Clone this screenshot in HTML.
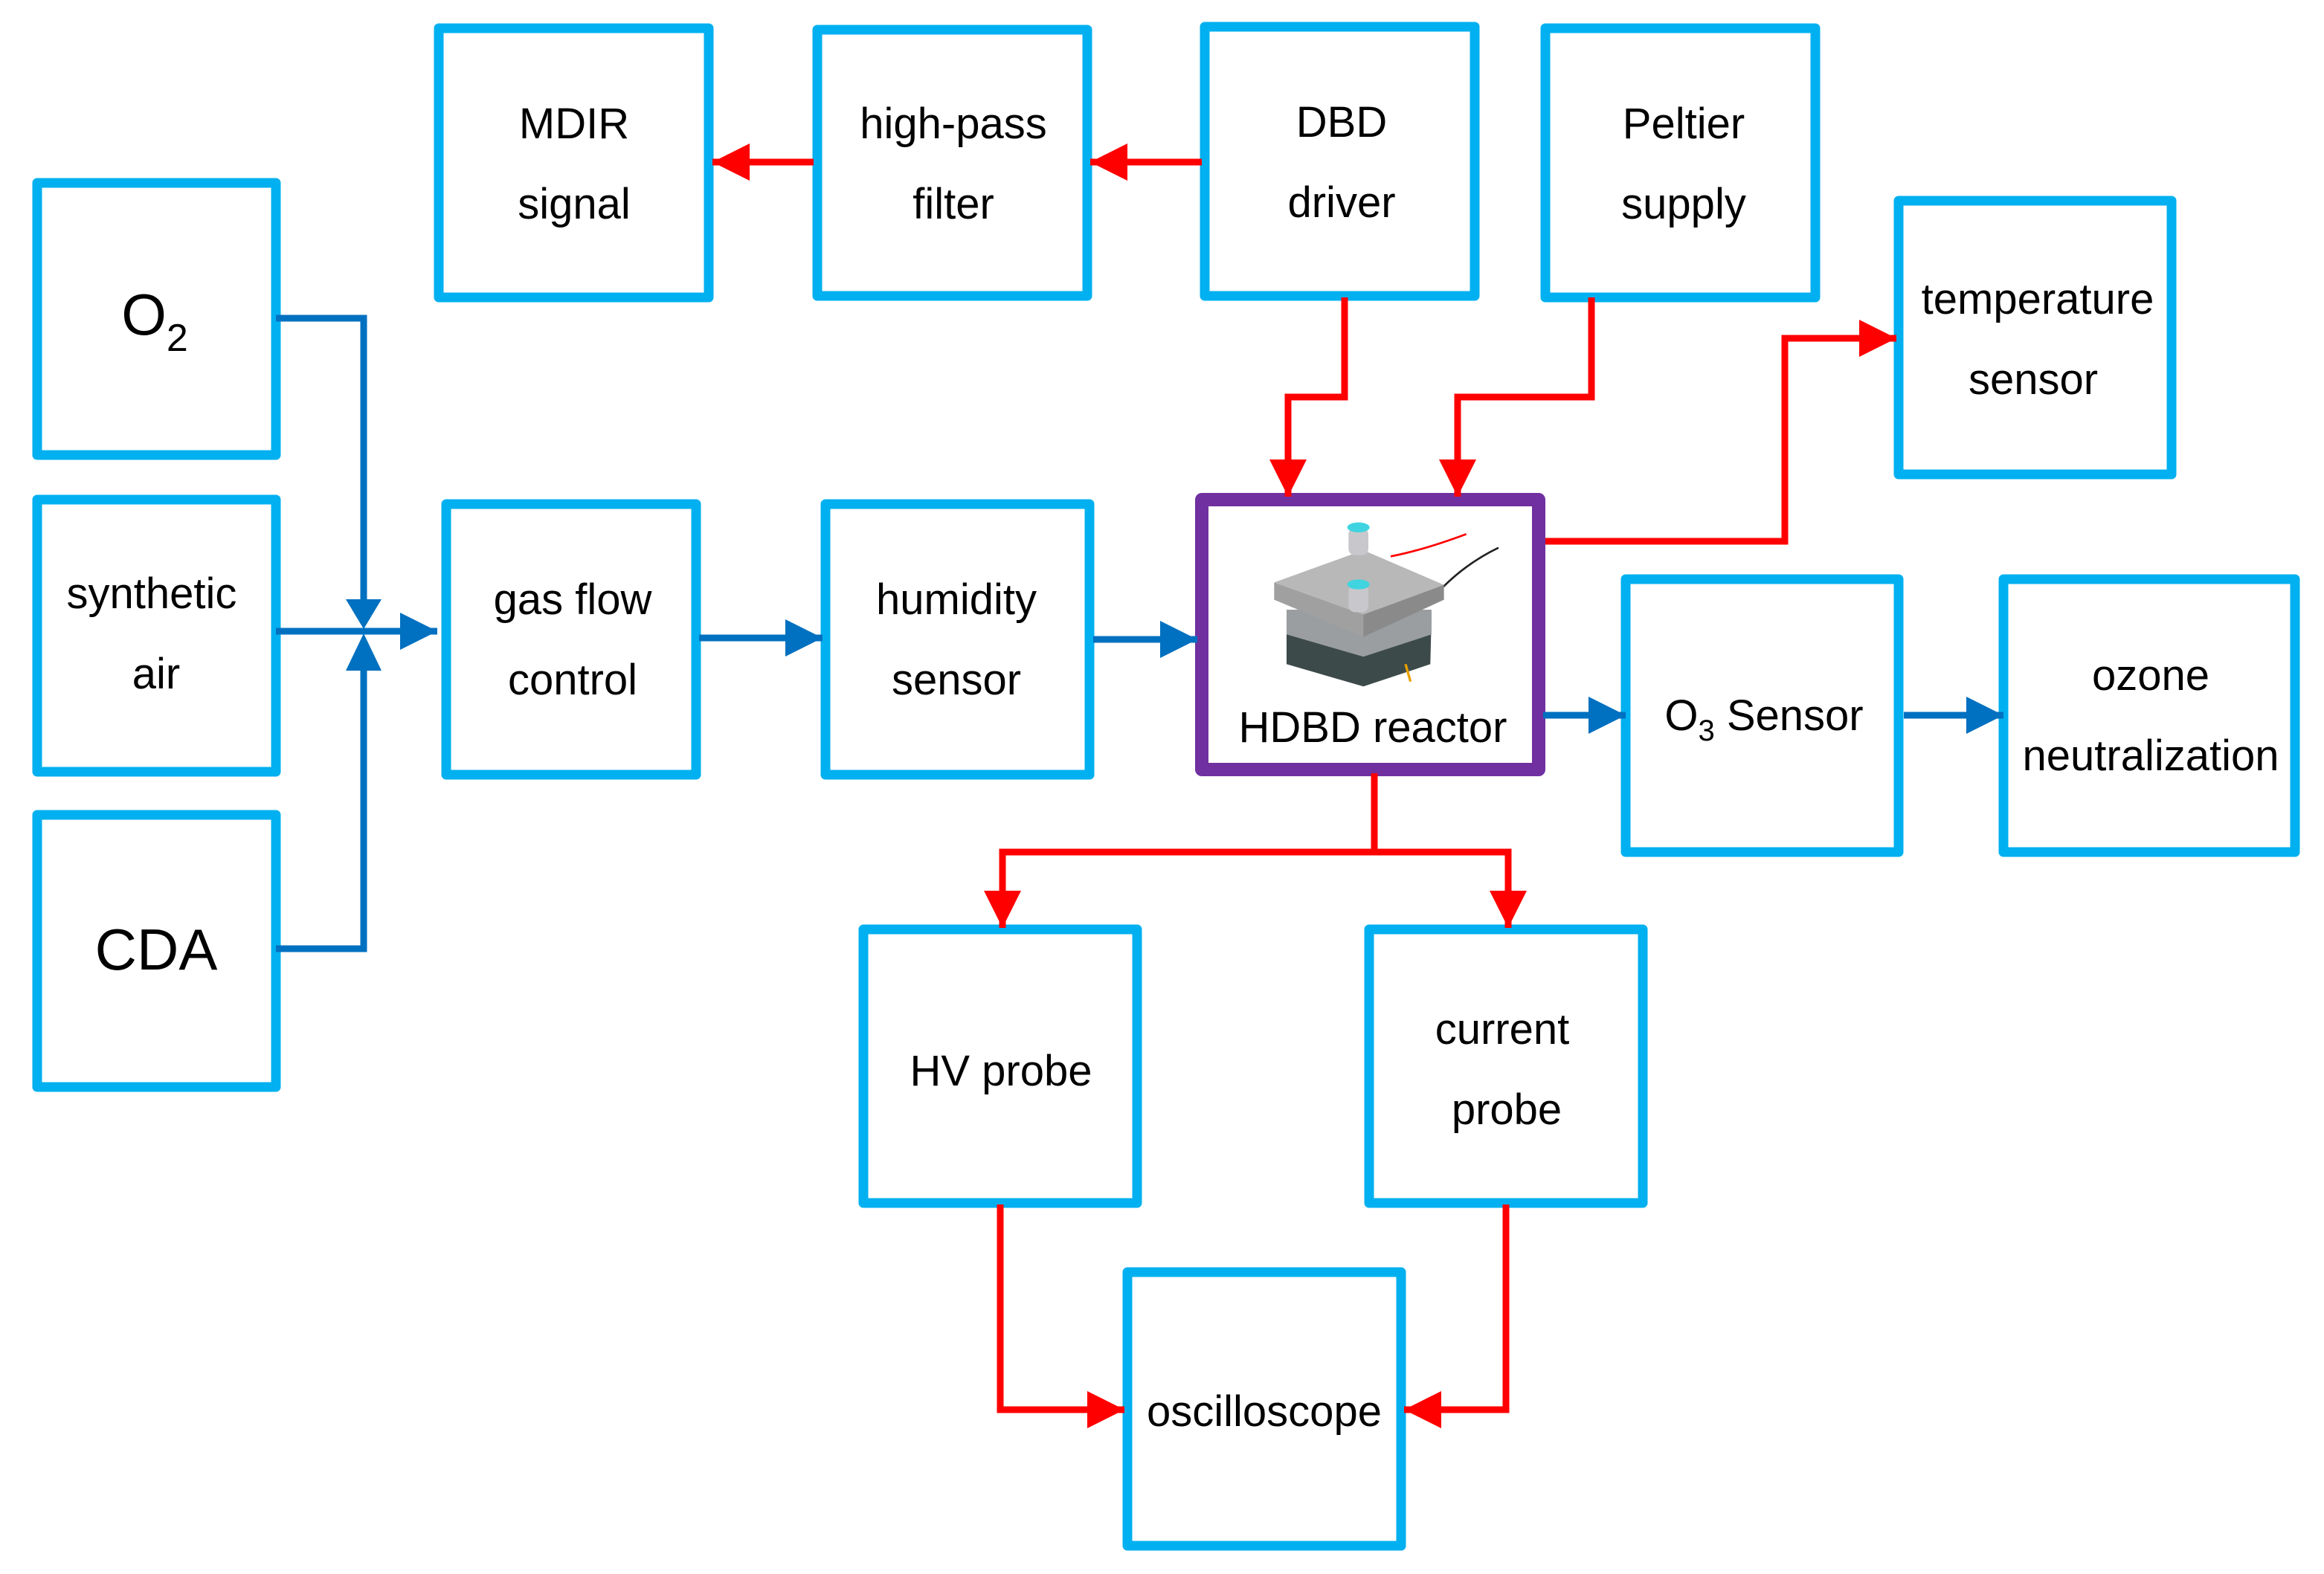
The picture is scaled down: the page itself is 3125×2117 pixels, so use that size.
<!DOCTYPE html>
<html><head><meta charset="utf-8"><style>
html,body{margin:0;padding:0;background:#fff}
svg{display:block}
text{font-family:"Liberation Sans",Arial,sans-serif;fill:#000;text-anchor:middle}
</style></head><body>
<svg width="3125" height="2117" viewBox="0 0 3125 2117" xmlns="http://www.w3.org/2000/svg">
<defs>
<marker id="ar" viewBox="0 0 50 50" refX="50" refY="25" markerWidth="50" markerHeight="50" markerUnits="userSpaceOnUse" orient="auto"><path d="M0,0 L50,25 L0,50 Z" fill="#ff0000"/></marker>
<marker id="ab" viewBox="0 0 50 50" refX="50" refY="25" markerWidth="50" markerHeight="50" markerUnits="userSpaceOnUse" orient="auto"><path d="M0,0 L50,25 L0,50 Z" fill="#0070c0"/></marker>
</defs>
<g fill="none" stroke="#00b0f0" stroke-width="13" stroke-linejoin="round">
<rect x="590" y="38" width="363" height="362"/>
<rect x="1099" y="40" width="363" height="358"/>
<rect x="1620" y="36" width="363" height="362"/>
<rect x="2078" y="38" width="363" height="362"/>
<rect x="2553" y="270" width="367" height="368"/>
<rect x="50" y="246" width="321" height="366"/>
<rect x="50" y="672" width="321" height="366"/>
<rect x="50" y="1096" width="321" height="366"/>
<rect x="600" y="678" width="336" height="364"/>
<rect x="1110" y="678" width="355" height="364"/>
<rect x="2186" y="779" width="367" height="367"/>
<rect x="2694" y="779" width="392" height="367"/>
<rect x="1161" y="1250" width="368" height="368"/>
<rect x="1841" y="1250" width="368" height="368"/>
<rect x="1516" y="1711" width="368" height="368"/>
</g>
<rect x="1616" y="672" width="453" height="363" fill="none" stroke="#7030a0" stroke-width="18" stroke-linejoin="round"/>
<!-- reactor device -->
<g transform="translate(1580,640) scale(0.3333)">
<path d="M1175,235 Q1000,300 870,325" stroke="#ff0000" stroke-width="8" fill="none"/>
<path d="M1305,290 Q1180,350 1080,450" stroke="#222" stroke-width="8" fill="none"/>
<path d="M450,560 L1035,560 L1030,760 L760,850 L450,760 Z" fill="#3d4a4a"/>
<path d="M450,540 L1035,540 L1035,640 L760,730 L450,640 Z" fill="#9a9ea0"/>
<path d="M400,430 L760,300 L1085,440 L760,560 Z" fill="#b8b8b8"/>
<path d="M400,430 L760,560 L760,650 L400,500 Z" fill="#a0a0a0"/>
<path d="M760,560 L1085,440 L1085,500 L760,650 Z" fill="#8a8a8a"/>
<rect x="700" y="210" width="80" height="110" rx="25" fill="#c8c8cc"/>
<ellipse cx="740" cy="208" rx="45" ry="20" fill="#3fd4e0"/>
<rect x="700" y="440" width="80" height="110" rx="25" fill="#c8c8cc"/>
<ellipse cx="740" cy="438" rx="45" ry="20" fill="#3fd4e0"/>
<path d="M930,760 L950,830" stroke="#e8a000" stroke-width="10"/>
</g>
<!-- blue connectors -->
<g fill="none" stroke="#0070c0" stroke-width="9">
<path d="M371,428 H489 V806"/>
<path d="M371,1276 H489 V902"/>
<path d="M371,849 H588" marker-end="url(#ab)"/>
<path d="M940,858 H1106" marker-end="url(#ab)"/>
<path d="M1470,860 H1610" marker-end="url(#ab)"/>
<path d="M2075,962 H2186" marker-end="url(#ab)"/>
<path d="M2560,962 H2694" marker-end="url(#ab)"/>
</g>
<path d="M465,806 L513,806 L489,846 Z" fill="#0070c0"/>
<path d="M465,902 L513,902 L489,852 Z" fill="#0070c0"/>
<!-- red connectors -->
<g fill="none" stroke="#ff0000" stroke-width="9">
<path d="M1616,218 H1466" marker-end="url(#ar)"/>
<path d="M1094,218 H958" marker-end="url(#ar)"/>
<path d="M1808,400 V534 H1732 V668" marker-end="url(#ar)"/>
<path d="M2140,400 V534 H1960 V668" marker-end="url(#ar)"/>
<path d="M2078,728 H2400 V455 H2550" marker-end="url(#ar)"/>
<path d="M1848,1040 V1146 H2028 V1248" marker-end="url(#ar)"/>
<path d="M1848,1146 H1348 V1248" marker-end="url(#ar)"/>
<path d="M1345,1620 V1896 H1512" marker-end="url(#ar)"/>
<path d="M2025,1620 V1896 H1888" marker-end="url(#ar)"/>
</g>
<!-- labels -->
<g font-size="58">
<text x="772" y="186">MDIR</text><text x="772" y="294">signal</text>
<text x="1282" y="186">high-pass</text><text x="1282" y="294">filter</text>
<text x="1804" y="184">DBD</text><text x="1804" y="292">driver</text>
<text x="2264" y="186">Peltier</text><text x="2264" y="294">supply</text>
<text x="2740" y="422">temperature</text><text x="2734" y="530">sensor</text>
<text x="204" y="818">synthetic</text><text x="210" y="926">air</text>
<text x="770" y="826">gas flow</text><text x="770" y="934">control</text>
<text x="1286" y="826">humidity</text><text x="1286" y="934">sensor</text>
<text x="1846" y="998">HDBD reactor</text>
<text x="2372" y="982">O<tspan font-size="40" dy="14">3</tspan><tspan dy="-14"> Sensor</tspan></text>
<text x="2892" y="928">ozone</text><text x="2892" y="1036">neutralization</text>
<text x="1346" y="1460">HV probe</text>
<text x="2020" y="1404">current</text><text x="2026" y="1512">probe</text>
<text x="1700" y="1918">oscilloscope</text>
</g>
<text x="208" y="450" font-size="78">O<tspan font-size="52" dy="22">2</tspan></text>
<text x="210" y="1304" font-size="78">CDA</text>
</svg>
</body></html>
